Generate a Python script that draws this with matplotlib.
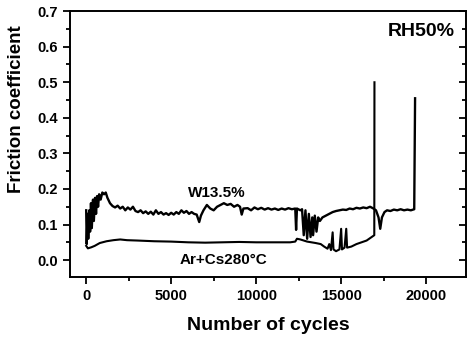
import matplotlib
matplotlib.use('Agg')
import matplotlib.pyplot as plt
from matplotlib.ticker import MultipleLocator

plt.rcParams['font.family'] = ['Liberation Sans', 'DejaVu Sans']
plt.rcParams['font.weight'] = 'bold'

# W13.5% film, RH50%
w_cycles = [0, 30, 80, 120, 180, 230, 280, 330, 400, 450, 520, 580, 640, 700, 760,
            850, 950, 1050, 1150, 1250, 1400, 1550, 1700, 1850, 2000, 2150, 2300,
            2450, 2600, 2750, 2900, 3050, 3200, 3350, 3500, 3650, 3800, 3950, 4100,
            4250, 4400, 4550, 4700, 4850, 5000, 5150, 5300, 5450, 5600, 5750, 5900,
            6050, 6200, 6350, 6500, 6650, 6750, 6900, 7100, 7300, 7500, 7700, 7900,
            8100, 8300, 8500, 8700, 8900, 9050, 9150, 9250, 9500, 9700, 9900, 10100,
            10300, 10500, 10700, 10900, 11100, 11300, 11500, 11700, 11900, 12100,
            12300, 12350, 12400, 12600, 12700, 12800, 12900, 13000, 13100, 13200,
            13300, 13350, 13450, 13550, 13650, 13750, 13900, 14100, 14300, 14500,
            14700, 14900, 15100, 15300, 15500, 15700, 15900, 16100, 16300, 16500,
            16700, 16900, 17050, 17200, 17300, 17400, 17550, 17700, 17900, 18100,
            18300, 18500, 18700, 18900, 19100, 19300, 19350]
w_mu = [0.14, 0.045, 0.13, 0.06, 0.14, 0.08, 0.16, 0.09, 0.17, 0.11, 0.175, 0.13, 0.18,
        0.15, 0.185, 0.17, 0.19, 0.185, 0.19, 0.175, 0.16, 0.152, 0.148, 0.153, 0.145,
        0.15, 0.14, 0.148, 0.142, 0.15, 0.138, 0.135, 0.14, 0.132, 0.137, 0.13, 0.136,
        0.128, 0.14, 0.13, 0.135, 0.128, 0.132, 0.127, 0.133, 0.128, 0.135, 0.13, 0.14,
        0.133, 0.138, 0.13, 0.135, 0.13, 0.128, 0.107, 0.125, 0.14, 0.155, 0.145, 0.14,
        0.15, 0.155, 0.16, 0.155, 0.158, 0.15, 0.155, 0.15, 0.128, 0.145, 0.146, 0.14,
        0.148, 0.143, 0.147, 0.142, 0.146, 0.142, 0.145, 0.141, 0.145, 0.142, 0.146,
        0.143, 0.145, 0.085, 0.145, 0.14, 0.143, 0.07, 0.14, 0.06, 0.13, 0.065, 0.12,
        0.07, 0.125, 0.08, 0.12, 0.11, 0.12, 0.125, 0.13, 0.135, 0.138, 0.14, 0.142,
        0.141, 0.145, 0.143, 0.147, 0.145, 0.148, 0.146, 0.15, 0.145, 0.14, 0.12, 0.088,
        0.12, 0.135, 0.14, 0.138, 0.142, 0.14, 0.143, 0.14, 0.142, 0.14, 0.143, 0.455]

# Ar+Cs 280°C film, RH50%
ar_cycles = [0, 100, 300, 500, 800, 1200, 1600, 2000, 2400, 3000, 4000, 5000, 6000,
             7000, 8000, 9000, 10000, 11000, 12000, 12300, 12400, 12600, 13000, 13500,
             13800, 14000, 14200, 14300, 14400, 14500, 14550, 14700, 14900, 15000,
             15050, 15200, 15300, 15350, 15600, 15900, 16200, 16500, 16800, 16950, 16960]
ar_mu = [0.04, 0.033, 0.036, 0.04, 0.048, 0.053, 0.056, 0.058, 0.056, 0.055, 0.053,
         0.052, 0.05, 0.049, 0.05, 0.051, 0.05, 0.05, 0.05, 0.052, 0.06, 0.058, 0.052,
         0.048, 0.045, 0.038, 0.032, 0.045, 0.028, 0.078, 0.03, 0.025, 0.03, 0.088, 0.03,
         0.035, 0.088, 0.035, 0.038, 0.045, 0.05, 0.055, 0.065, 0.07, 0.5]

fig = plt.figure(figsize=(4.67, 3.38), dpi=100)
ax = fig.add_axes([0.150, 0.180, 0.848, 0.787])

ax.plot(w_cycles, w_mu, color='black', lw=1.7)
ax.plot(ar_cycles, ar_mu, color='black', lw=1.5)

ax.set_xlim(-950, 22350)
ax.set_ylim(-0.048, 0.7)
ax.xaxis.set_major_locator(MultipleLocator(5000))
ax.xaxis.set_minor_locator(MultipleLocator(2500))
ax.yaxis.set_major_locator(MultipleLocator(0.1))
ax.yaxis.set_minor_locator(MultipleLocator(0.05))
ax.yaxis.set_major_formatter(plt.FuncFormatter(lambda v, p: f'{v:.1f}'))

ax.tick_params(which='both', direction='out', width=1.3, labelsize=10.5,
               top=False)
ax.tick_params(which='major', length=5)
ax.tick_params(which='minor', length=3)
ax.tick_params(axis='y', which='both', right=True, labelright=False)
for s in ax.spines.values():
    s.set_linewidth(1.4)

# right side ticks point inward
for t in ax.yaxis.get_major_ticks() + ax.yaxis.get_minor_ticks():
    t.tick2line.set_marker(0)  # TICKLEFT marker draws to the left of the right spine

ax.set_xlabel('Number of cycles', fontsize=14, fontweight='bold', labelpad=10)
ax.set_ylabel('Friction coefficient', fontsize=13.5, fontweight='bold')
ax.yaxis.set_label_coords(-0.115, 0.63)

ax.text(7700, 0.19, 'W13.5%', ha='center', va='center', fontsize=11, fontweight='bold')
ax.text(8100, 0.0, 'Ar+Cs280°C', ha='center', va='center', fontsize=11, fontweight='bold')
ax.text(0.888, 0.925, 'RH50%', transform=ax.transAxes, ha='center', va='center',
        fontsize=14, fontweight='bold')

fig.savefig('out.png', dpi=100)
